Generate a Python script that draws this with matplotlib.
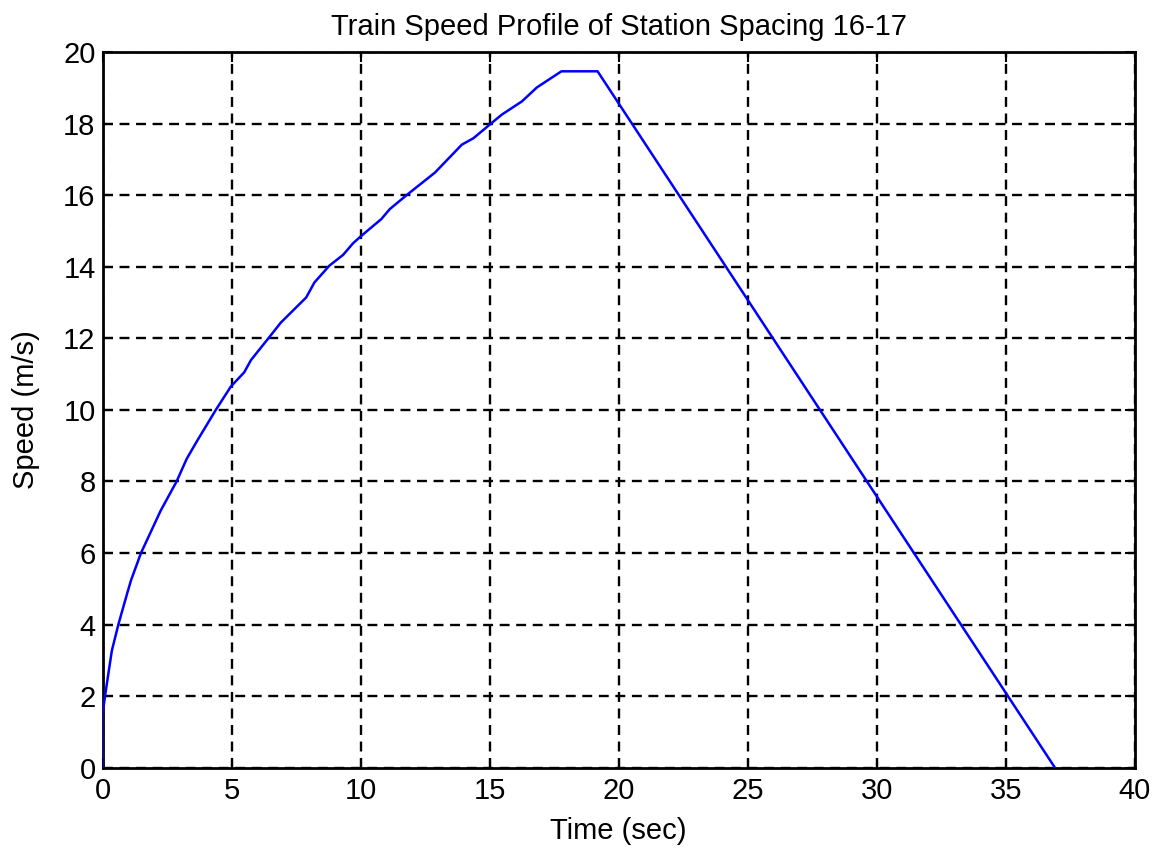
import matplotlib
matplotlib.use("Agg")
import matplotlib.pyplot as plt

plt.rcParams['font.family'] = ['Liberation Sans', 'DejaVu Sans']

# Speed profile samples: time (s) and speed (m/s)
time_s = [0.0, 0.0, 0.1, 0.36, 0.62, 0.95, 1.1, 1.49, 2.25, 2.87, 3.26, 3.67,
          4.39, 4.97, 5.49, 5.75, 6.46, 6.91, 7.89, 8.21, 8.79, 9.32, 9.70,
          9.99, 10.80, 11.13, 11.78, 12.88, 13.92, 14.37, 15.0, 15.47, 16.25,
          16.83, 17.78, 19.18, 36.9]
speed_ms = [0.0, 1.5, 2.02, 3.27, 4.02, 4.86, 5.23, 6.0, 7.18, 8.0, 8.63, 9.14,
            10.0, 10.65, 11.05, 11.39, 12.03, 12.44, 13.14, 13.56, 14.03, 14.33,
            14.65, 14.84, 15.33, 15.61, 16.0, 16.63, 17.41, 17.59, 17.97, 18.25,
            18.62, 19.01, 19.46, 19.46, 0.0]

x_ticks = [0, 5, 10, 15, 20, 25, 30, 35, 40]
y_ticks = [0, 2, 4, 6, 8, 10, 12, 14, 16, 18, 20]

fig = plt.figure(figsize=(11.6, 8.48), dpi=100)
ax = fig.add_axes([0.0884, 0.0947, 0.8900, 0.8440])

ax.plot(time_s, speed_ms, color='#0000ff', linewidth=1.8, zorder=3)

ax.set_xlim(0, 40)
ax.set_ylim(0, 20)
ax.set_xticks(x_ticks)
ax.set_yticks(y_ticks)
ax.grid(True, color='black', linestyle=(0, (4.2, 2.8)), linewidth=1.7)
ax.tick_params(direction='in', length=7, width=1.5, top=True, right=True,
               labelsize=21)
ax.tick_params(axis='x', pad=7)
ax.tick_params(axis='y', pad=5)
for spine in ax.spines.values():
    spine.set_linewidth(2)

ax.set_title('Train Speed Profile of Station Spacing 16-17', fontsize=21, pad=12)
ax.set_xlabel('Time (sec)', fontsize=21, labelpad=8)
ax.set_ylabel('Speed (m/s)', fontsize=21, labelpad=17)

fig.savefig('out.png', dpi=100)
